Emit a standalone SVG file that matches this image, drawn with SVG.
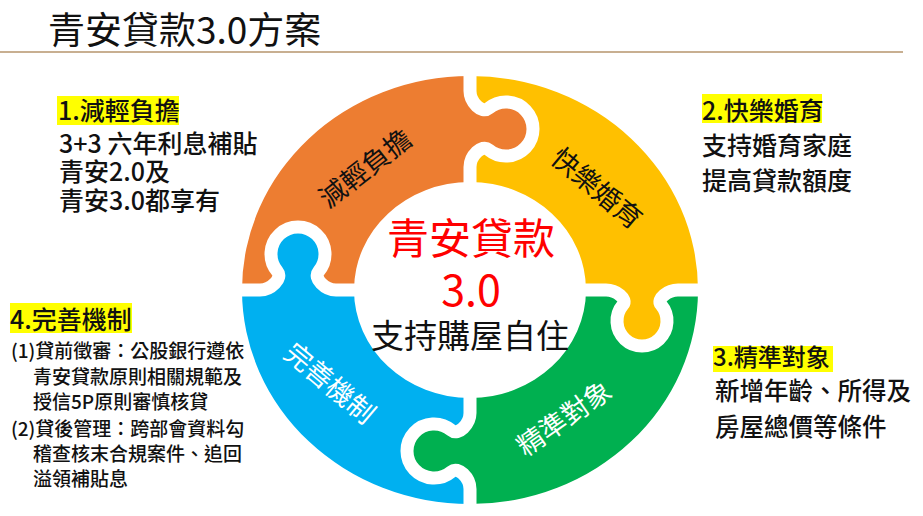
<svg xmlns="http://www.w3.org/2000/svg" width="923" height="516" viewBox="0 0 923 516">
<style>
text{font-family:"Noto Sans CJK TC","Noto Sans",sans-serif;}
.t{font-size:25px;fill:#111;font-weight:500;}
.s{font-size:19px;fill:#111;font-weight:500;}
.hl{fill:#ffff00;}
.seam{fill:none;stroke:#fff;stroke-width:13;}
.lbl{font-size:27px;text-anchor:middle;}
.c{text-anchor:middle;}
</style>
<rect width="923" height="516" fill="#fff"/>
<g id="title">
<text x="48" y="44" style="font-size:37px;fill:#111">青安貸款3.0方案</text>
<line x1="0" y1="52" x2="903" y2="52" stroke="#c8af91" stroke-width="2"/>
</g>
<g id="piece-orange">
<path fill="#ed7d31" d="M242,290 A228,214 0 0 1 470,76 L470,91 C470,102 481.75,114.11 488.64,108.32 A27,27 0 1 1 488.64,149.68 C481.75,143.89 470,156 470,167 L470,182 A116,108 0 0 0 354,290 L336,290 C325,290 312.89,278.25 318.68,271.36 A27,27 0 1 0 277.32,271.36 C283.11,278.25 271,290 260,290 Z"/>
<text class="lbl" transform="translate(365,168) rotate(-38)" y="10" fill="#111">減輕負擔</text>
</g>
<g id="piece-yellow">
<path fill="#ffc000" d="M470,76 A228,214 0 0 1 698,290 L678,290 C668,290 656.01,298.80 661.15,304.93 A25,25 0 1 1 622.85,304.93 C627.99,298.80 616,290 606,290 L586,290 A116,108 0 0 0 470,182 L470,167 C470,156 481.75,143.89 488.64,149.68 A27,27 0 1 0 488.64,108.32 C481.75,114.11 470,102 470,91 Z"/>
<text class="lbl" transform="translate(597,188) rotate(40)" y="10" fill="#111">快樂婚育</text>
</g>
<g id="piece-green">
<path fill="#00b050" d="M698,290 A228,214 0 0 1 470,504 L470,489 C470,478 458.25,465.89 451.36,471.68 A27,27 0 1 1 451.36,430.32 C458.25,436.11 470,424 470,413 L470,398 A116,108 0 0 0 586,290 L606,290 C616,290 627.99,298.80 622.85,304.93 A25,25 0 1 0 661.15,304.93 C656.01,298.80 668,290 678,290 Z"/>
<text class="lbl" transform="translate(564,418) rotate(-35)" y="10" fill="#fff">精準對象</text>
</g>
<g id="piece-blue">
<path fill="#00b0f0" d="M470,504 A228,214 0 0 1 242,290 L260,290 C271,290 283.11,278.25 277.32,271.36 A27,27 0 1 1 318.68,271.36 C312.89,278.25 325,290 336,290 L354,290 A116,108 0 0 0 470,398 L470,413 C470,424 458.25,436.11 451.36,430.32 A27,27 0 1 0 451.36,471.68 C458.25,465.89 470,478 470,489 Z"/>
<text class="lbl" transform="translate(330,383) rotate(40)" y="10" fill="#fff">完善機制</text>
</g>
<g id="seams">
<path class="seam" d="M470,70 L470,91 C470,102 481.75,114.11 488.64,108.32 A27,27 0 1 1 488.64,149.68 C481.75,143.89 470,156 470,167 L470,188"/>
<path class="seam" d="M704,290 L678,290 C668,290 656.01,298.80 661.15,304.93 A25,25 0 1 1 622.85,304.93 C627.99,298.80 616,290 606,290 L580,290"/>
<path class="seam" d="M470,510 L470,489 C470,478 458.25,465.89 451.36,471.68 A27,27 0 1 1 451.36,430.32 C458.25,436.11 470,424 470,413 L470,392"/>
<path class="seam" d="M236,290 L260,290 C271,290 283.11,278.25 277.32,271.36 A27,27 0 1 1 318.68,271.36 C312.89,278.25 325,290 336,290 L360,290"/>
</g>
<g id="center">
<text class="c" x="471" y="254" style="font-size:42px;fill:#ff0000">青安貸款</text>
<text class="c" x="471" y="306" style="font-size:43px;fill:#ff0000">3.0</text>
<text class="c" x="470" y="348" style="font-size:33px;fill:#111">支持購屋自住</text>
</g>
<g id="note-1">
<rect class="hl" x="57" y="96" width="122" height="29"/>
<text class="t" x="58" y="120">1.減輕負擔</text>
<text class="t" x="59" y="153">3+3 六年利息補貼</text>
<text class="t" x="59" y="181">青安2.0及</text>
<text class="t" x="59" y="210">青安3.0都享有</text>
</g>
<g id="note-2">
<rect class="hl" x="702" y="94" width="120" height="29"/>
<text class="t" x="702" y="120">2.快樂婚育</text>
<text class="t" x="702" y="155">支持婚育家庭</text>
<text class="t" x="702" y="190">提高貸款額度</text>
</g>
<g id="note-3">
<rect class="hl" x="713" y="346" width="120" height="26"/>
<text class="t" x="713" y="366" style="font-size:24px">3.精準對象</text>
<text class="t" x="715" y="400" style="font-size:24.5px">新增年齡、所得及</text>
<text class="t" x="715" y="436" style="font-size:24.5px">房屋總價等條件</text>
</g>
<g id="note-4">
<rect class="hl" x="10" y="303" width="122" height="30"/>
<text class="t" x="10" y="329">4.完善機制</text>
<text class="s" x="11" y="358">(1)貸前徵審：公股銀行遵依</text>
<text class="s" x="33" y="384">青安貸款原則相關規範及</text>
<text class="s" x="33" y="409">授信5P原則審慎核貸</text>
<text class="s" x="11" y="436">(2)貸後管理：跨部會資料勾</text>
<text class="s" x="33" y="461">稽查核末合規案件、追回</text>
<text class="s" x="33" y="486">溢領補貼息</text>
</g>
</svg>
